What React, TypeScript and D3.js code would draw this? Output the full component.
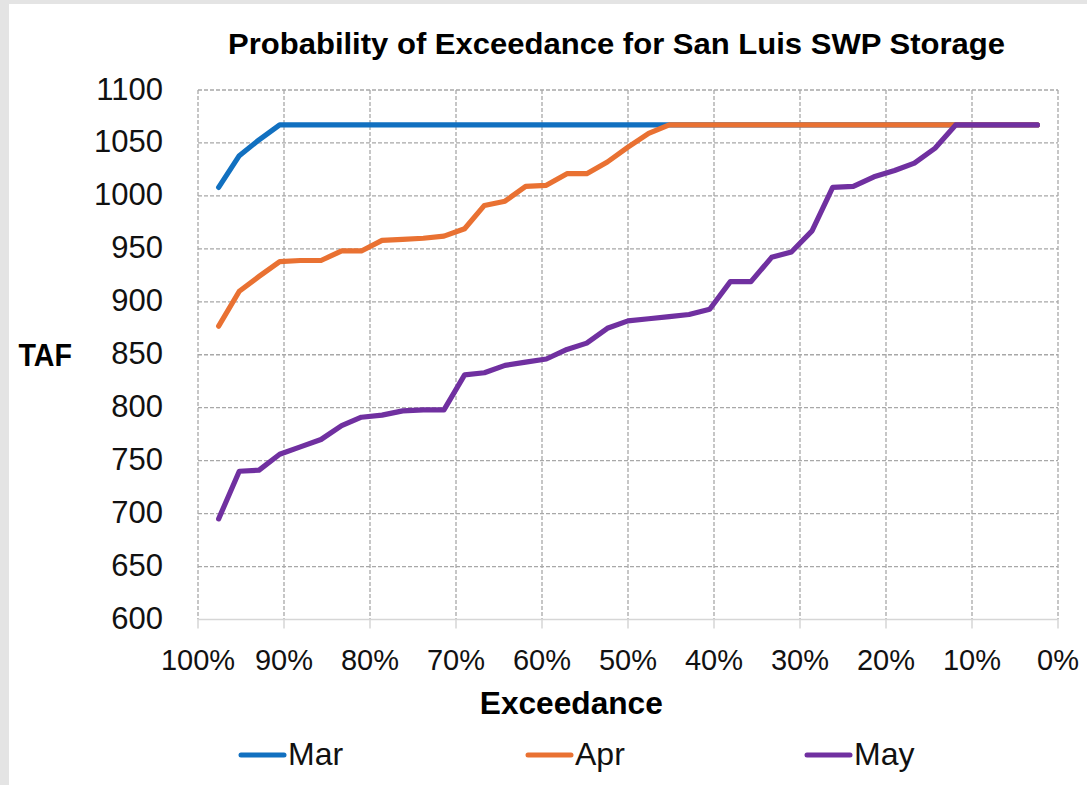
import React, { useEffect, useRef } from 'react'
import * as d3 from 'd3'

// exceedance (%) of each ranked value
const exceedance = [
  97.6, 95.2, 92.9, 90.5, 88.1, 85.7, 83.3, 81.0, 78.6, 76.2, 73.8, 71.4, 69.0, 66.7,
  64.3, 61.9, 59.5, 57.1, 54.8, 52.4, 50.0, 47.6, 45.2, 42.9, 40.5, 38.1, 35.7, 33.3,
  31.0, 28.6, 26.2, 23.8, 21.4, 19.0, 16.7, 14.3, 11.9, 9.5, 7.1, 4.8, 2.4
]

const mar = [
  1008, 1038, 1053, 1067, 1067, 1067, 1067, 1067, 1067, 1067, 1067, 1067, 1067, 1067,
  1067, 1067, 1067, 1067, 1067, 1067, 1067, 1067, 1067, 1067, 1067, 1067, 1067, 1067,
  1067, 1067, 1067, 1067, 1067, 1067, 1067, 1067, 1067, 1067, 1067, 1067, 1067
]

const apr = [
  877, 910, 924, 938, 939, 939, 948, 948, 958, 959, 960, 962, 969, 991,
  995, 1009, 1010, 1021, 1021, 1032, 1046, 1059, 1067, 1067, 1067, 1067, 1067, 1067,
  1067, 1067, 1067, 1067, 1067, 1067, 1067, 1067, 1067, 1067, 1067, 1067, 1067
]

const may = [
  695, 740, 741, 756, 763, 770, 783, 791, 793, 797, 798, 798, 831, 833,
  840, 843, 846, 855, 861, 875, 882, 884, 886, 888, 893, 919, 919, 942,
  947, 967, 1008, 1009, 1018, 1024, 1031, 1045, 1067, 1067, 1067, 1067, 1067
]

const seriesNames = ['Mar', 'Apr', 'May']
const seriesColors = ['#1170c0', '#e97132', '#7030a0']
const xTicks = [100, 90, 80, 70, 60, 50, 40, 30, 20, 10, 0]
const yTicks = [600, 650, 700, 750, 800, 850, 900, 950, 1000, 1050, 1100]

const W = 1087
const H = 785
const font = '"Liberation Sans", Arial, sans-serif'

export default function App() {
  const ref = useRef<SVGSVGElement>(null)

  useEffect(() => {
    const svg = d3.select(ref.current)
    svg.selectAll('*').remove()

    const left = 198, right = 1058, top = 90, bottom = 619.5
    const x = d3.scaleLinear().domain([100, 0]).range([left, right])
    const y = d3.scaleLinear().domain([600, 1100]).range([bottom, top])

    // frame
    svg.append('rect').attr('width', W).attr('height', H).attr('fill', '#e4e4e4')
    svg.append('rect').attr('x', 9).attr('y', 4).attr('width', W - 9).attr('height', H - 4).attr('fill', '#fff')

    //grid
    const grid = svg.append('g').attr('stroke', '#a8a8a8').attr('stroke-width', 1.3).attr('stroke-dasharray', '4,2')
    grid.selectAll('.h').data(yTicks.filter(v => v > 600)).enter().append('line')
      .attr('x1', left).attr('x2', right)
      .attr('y1', d => y(d)).attr('y2', d => y(d))
    grid.selectAll('.v').data(xTicks).enter().append('line')
      .attr('x1', d => x(d)).attr('x2', d => x(d))
      .attr('y1', top).attr('y2', bottom)

    //x axis line + ticks
    svg.append('line').attr('x1', left).attr('x2', right).attr('y1', bottom).attr('y2', bottom)
      .attr('stroke', '#d6d6d6').attr('stroke-width', 1.5)
    svg.append('g').selectAll('line').data(xTicks).enter().append('line')
      .attr('x1', d => x(d)).attr('x2', d => x(d))
      .attr('y1', bottom).attr('y2', bottom + 9)
      .attr('stroke', '#d6d6d6').attr('stroke-width', 1.5)

    //tick labels
    svg.append('g').attr('font-family', font).attr('font-size', 31).attr('text-anchor', 'end').attr('fill', '#111')
      .selectAll('text').data(yTicks).enter().append('text')
      .attr('x', 163).attr('y', d => y(d) + 9.5)
      .text(d => d)
    svg.append('g').attr('font-family', font).attr('font-size', 29).attr('text-anchor', 'middle').attr('fill', '#111')
      .selectAll('text').data(xTicks).enter().append('text')
      .attr('x', d => x(d)).attr('y', 669.5)
      .text(d => d + '%')

    //series
    const data = [mar, apr, may]
    const line = d3.line<number>()
      .x((d, i) => x(exceedance[i]))
      .y(d => y(d))
    svg.append('g').selectAll('path').data(data).enter().append('path')
      .attr('d', d => line(d))
      .attr('fill', 'none')
      .attr('stroke', (d, i) => seriesColors[i])
      .attr('stroke-width', 5.2)
      .attr('stroke-linejoin', 'round')
      .attr('stroke-linecap', 'round')

    //titles
    svg.append('text').attr('x', 616.5).attr('y', 54).attr('text-anchor', 'middle')
      .attr('font-family', font).attr('font-weight', 'bold').attr('font-size', 30)
      .attr('textLength', 777).attr('lengthAdjust', 'spacingAndGlyphs')
      .text('Probability of Exceedance for San Luis SWP Storage')
    svg.append('text').attr('x', 18.5).attr('y', 366)
      .attr('font-family', font).attr('font-weight', 'bold').attr('font-size', 31)
      .attr('textLength', 53.5).attr('lengthAdjust', 'spacingAndGlyphs')
      .text('TAF')
    svg.append('text').attr('x', 571.3).attr('y', 714).attr('text-anchor', 'middle')
      .attr('font-family', font).attr('font-weight', 'bold').attr('font-size', 32)
      .attr('textLength', 183).attr('lengthAdjust', 'spacingAndGlyphs')
      .text('Exceedance')

    //legend
    const legendX = [241, 528, 807]
    const legend = svg.append('g').selectAll('g').data(seriesNames).enter().append('g')
      .attr('transform', (d, i) => 'translate(' + legendX[i] + ',0)')
    legend.append('line')
      .attr('x1', 0).attr('x2', 43).attr('y1', 755).attr('y2', 755)
      .attr('stroke', (d, i) => seriesColors[i]).attr('stroke-width', 5).attr('stroke-linecap', 'round')
    legend.append('text')
      .attr('x', 47).attr('y', 765)
      .attr('font-family', font).attr('font-size', 32).attr('fill', '#111')
      .text(d => d)
  }, [])

  return (
    <svg ref={ref} width={W} height={H}
      style={{ position: 'absolute', left: 0, top: 0, display: 'block' }} />
  )
}
